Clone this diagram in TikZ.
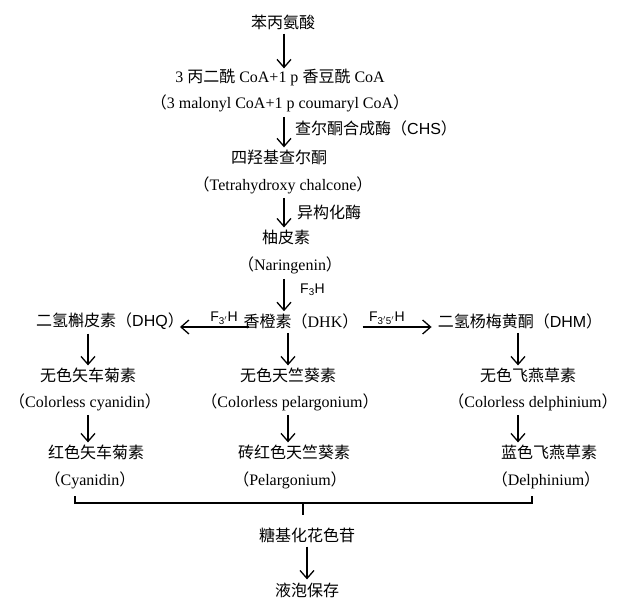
\documentclass[tikz,border=0pt]{standalone}
\usepackage{fontspec}
\setmainfont{Liberation Serif}
\newfontfamily\cjk{Noto Sans CJK SC}
\newfontfamily\lsans{Liberation Sans}
\newcommand{\C}[1]{{\cjk #1}}
\newcommand{\LS}[1]{{\lsans #1}}
\usetikzlibrary{arrows.meta}
\begin{document}
\begin{tikzpicture}[x=1pt,y=-1pt,
  txt/.style={inner sep=0pt,font=\fontsize{16}{19}\selectfont},
  lab/.style={inner sep=0pt,font=\fontsize{16}{19}\selectfont},
  flab/.style={inner sep=0pt,font=\fontsize{14}{16}\selectfont},
  arr/.style={line width=1.3pt,-{Straight Barb[length=8pt,width=14pt,line width=1.3pt]}},
  ln/.style={line width=1.3pt}]
\useasboundingbox (0,0) rectangle (620,601);
% top chain
\node[txt] (n1) at (283,22) {\C{苯丙氨酸}};
\node[txt] (n2) at (280,77) {3 \C{丙二酰} CoA+1 p \C{香豆酰} CoA};
\node[txt] (n2e) at (280,103) {\C{（}3 malonyl CoA+1 p coumaryl CoA\C{）}};
\node[txt] (n3) at (279,157) {\C{四羟基查尔酮}};
\node[txt] (n3e) at (283,185) {\C{（}Tetrahydroxy chalcone\C{）}};
\node[txt] (n4) at (286,237) {\C{柚皮素}};
\node[txt] (n4e) at (290,265) {\C{（}Naringenin\C{）}};
% middle row
\node[txt] (n5L) at (110,321) {\C{二氢槲皮素（}\LS{DHQ}\C{）}};
\node[txt] (n5) at (301,321) {\C{香橙素（}DHK\C{）}};
\node[txt] (n5R) at (520,321) {\C{二氢杨梅黄酮（}\LS{DHM}\C{）}};
% colourless
\node[txt] (r6L) at (88,375) {\C{无色矢车菊素}};
\node[txt] (r6M) at (288,375) {\C{无色天竺葵素}};
\node[txt] (r6R) at (528,375) {\C{无色飞燕草素}};
\node[txt] (r6Le) at (85,402) {\C{（}Colorless cyanidin\C{）}};
\node[txt] (r6Me) at (290,402) {\C{（}Colorless pelargonium\C{）}};
\node[txt] (r6Re) at (533,402) {\C{（}Colorless delphinium\C{）}};
% coloured
\node[txt] (r7L) at (96,452) {\C{红色矢车菊素}};
\node[txt] (r7M) at (294,452) {\C{砖红色天竺葵素}};
\node[txt] (r7R) at (549,452) {\C{蓝色飞燕草素}};
\node[txt] (r8L) at (90,480) {\C{（}Cyanidin\C{）}};
\node[txt] (r8M) at (290,480) {\C{（}Pelargonium\C{）}};
\node[txt] (r8R) at (546,480) {\C{（}Delphinium\C{）}};
% bottom
\node[txt] (n9) at (307,535) {\C{糖基化花色苷}};
\node[txt] (n10) at (307,590) {\C{液泡保存}};
% labels
\node[lab,anchor=west] (lCHS) at (295,128) {\C{查尔酮合成酶（}\LS{CHS}\C{）}};
\node[lab,anchor=west] (lIso) at (297,212) {\C{异构化酶}};
\node[flab,anchor=west] (lF3H) at (300,290) {\LS{F\textsubscript{3}H}};
\node[flab] (lF3p) at (224,318) {\LS{F\textsubscript{3$'$}H}};
\node[flab] (lF35) at (387,318) {\LS{F\textsubscript{3$'$5$'$}H}};
% coordinates for columns
\coordinate (cL) at (88,0);
\coordinate (cM) at (288,0);
\coordinate (cR) at (518,0);
\coordinate (cT) at (284,0);
% arrows top chain
\draw[arr] (cT|-n1.south) ++(0,4) -- (cT|-n2.north);
\draw[arr] (cT|-n2e.south) ++(0,5) -- ([yshift=2pt]cT|-n3.north);
\draw[arr] (cT|-n3e.south) ++(0,4) -- ([yshift=2pt]cT|-n4.north);
\draw[arr] (cT|-n4e.south) ++(0,5) -- ([yshift=2pt]cT|-n5.north);
% side arrows
\draw[arr] ([xshift=6pt,yshift=-6pt]n5.west) -- ([xshift=-4pt,yshift=-6pt]n5L.east);
\draw[arr] ([xshift=4pt,yshift=-6pt]n5.east) -- ([xshift=-6pt,yshift=-6pt]n5R.west);
% columns
\draw[arr] (cL|-n5L.south) ++(0,4) -- ([yshift=2pt]cL|-r6L.north);
\draw[arr] (cM|-n5.south) ++(0,4) -- ([yshift=2pt]cM|-r6M.north);
\draw[arr] (cR|-n5R.south) ++(0,4) -- ([yshift=2pt]cR|-r6R.north);
\draw[arr] (cL|-r6Le.south) ++(0,4) -- ([yshift=2pt]cL|-r7L.north);
\draw[arr] (cM|-r6Me.south) ++(0,4) -- ([yshift=2pt]cM|-r7M.north);
\draw[arr] (cR|-r6Re.south) ++(0,4) -- ([yshift=2pt]cR|-r7R.north);
% bracket
\coordinate (bL) at (75,496);
\coordinate (bR) at (532,496);
\coordinate (bM) at (303,503);
\draw[ln] (bL) -- (bL|-bM) -- (bR|-bM) -- (bR);
\draw[ln] (bM) -- ++(0,12);
\draw[arr] (n9.south) ++(0,4) -- ([yshift=3pt]n10.north);
\end{tikzpicture}
\end{document}
